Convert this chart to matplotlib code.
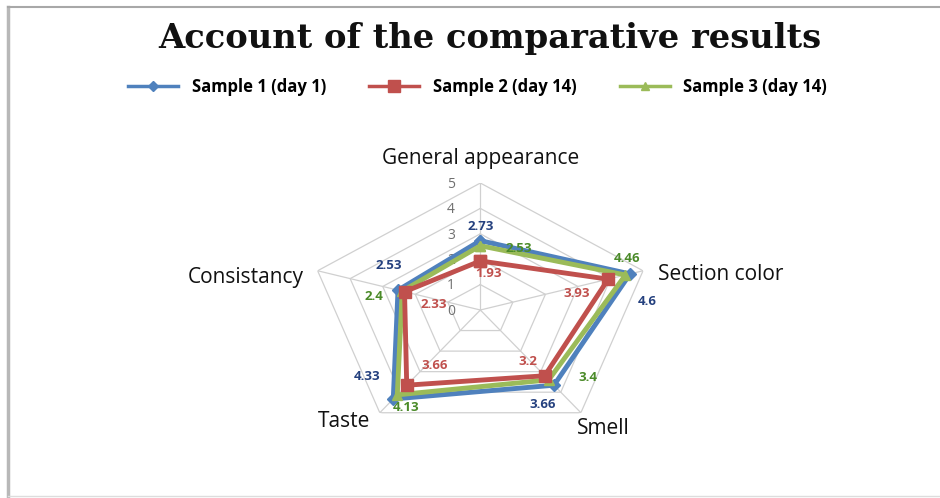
import matplotlib.pyplot as plt
import numpy as np
from matplotlib.lines import Line2D

plt.rcParams['font.family'] = ['Open Sans', 'DejaVu Sans']

criteria = ['General appearance', 'Section color', 'Smell', 'Taste', 'Consistancy']
sample1 = [2.73, 4.6, 3.66, 4.33, 2.53]
sample2 = [1.93, 3.93, 3.2, 3.66, 2.33]
sample3 = [2.53, 4.46, 3.4, 4.13, 2.4]
series_names = ['Sample 1 (day 1)', 'Sample 2 (day 14)', 'Sample 3 (day 14)']
rings = [0, 1, 2, 3, 4, 5]

line_colors = ['#4F81BD', '#C0504D', '#9BBB59']
label_colors = ['#24407E', '#C0504D', '#4A8A28']
markers = ['D', 's', '^']
msizes = [6, 9, 7]

# label offsets (points) per series / per axis
offsets = [
    [(0, 10), (12, -20), (-8, -14), (-19, 16), (-7, 18)],
    [(6, -9), (-23, -10), (-12, 10), (20, 14), (21, -9)],
    [(28, -2), (1, 12), (28, 2), (6, -9), (-20, -4)],
]

fig = plt.figure(figsize=(9.4, 4.98), dpi=100)
ax = fig.add_axes([0.329, 0.1225, 0.364, 0.51], projection='polar')
ax.set_aspect('auto')
ax.set_theta_zero_location('N')
ax.set_theta_direction(-1)

n = len(criteria)
angles = np.arange(n) * 2 * np.pi / n
closed = np.append(angles, angles[0])

# pentagon grid
for r in rings[1:]:
    ax.plot(closed, [r] * (n + 1), color='#D0D0D0', linewidth=0.9, zorder=1)
for a in angles:
    ax.plot([a, a], [0, 5], color='#D0D0D0', linewidth=0.9, zorder=1)

ax.grid(False)
ax.spines['polar'].set_visible(False)
ax.set_ylim(0, 5)
ax.set_yticks([])
ax.set_xticks([])

for r in rings:
    ax.annotate(str(r), (0, r), xytext=(-21, -1), textcoords='offset points',
                ha='center', va='center', fontsize=10, color='#707070')

for i, vals in enumerate([sample1, sample2, sample3]):
    v = np.append(vals, vals[0])
    ax.plot(closed, v, color=line_colors[i], linewidth=3.5, marker=markers[i],
            markersize=msizes[i], markerfacecolor=line_colors[i],
            markeredgecolor=line_colors[i], zorder=5 if i == 1 else 3,
            clip_on=False)
    for j, val in enumerate(vals):
        ax.annotate(str(val), (angles[j], val), xytext=offsets[i][j],
                    textcoords='offset points', ha='center', va='center',
                    fontsize=9.5, fontweight='bold', color=label_colors[i],
                    zorder=6)

# category names
name_off = [(0, 18), (56, -3), (16, -11), (-26, -6), (-52, -5)]
for j, name in enumerate(criteria):
    ax.annotate(name, (angles[j], 5), xytext=name_off[j], textcoords='offset points',
                ha='center', va='center', fontsize=15, color='#111111')

fig.text(0.521, 0.922, 'Account of the comparative results', ha='center', va='center',
         fontsize=24.3, fontweight='bold', family='DejaVu Serif', color='#111111')

handles = [Line2D([0], [0], color=line_colors[i], linewidth=2.5, marker=markers[i],
                  markersize=msizes[i] - 1) for i in range(3)]
fig.legend(handles, series_names, loc='center', bbox_to_anchor=(0.508, 0.825), ncol=3,
           frameon=False, columnspacing=2.6, handlelength=3.0, handletextpad=0.8,
           prop={'weight': 'bold', 'size': 12})

# outer frame
fig.add_artist(Line2D([0.008, 0.008], [0, 0.985], color='#B8B8B8', linewidth=2.5,
                      transform=fig.transFigure))
fig.add_artist(Line2D([0.008, 1], [0.985, 0.985], color='#A8A8A8', linewidth=1.5,
                      transform=fig.transFigure))
fig.add_artist(Line2D([0.008, 1], [0.004, 0.004], color='#DDDDDD', linewidth=1,
                      transform=fig.transFigure))

fig.savefig('out.png', dpi=100)
